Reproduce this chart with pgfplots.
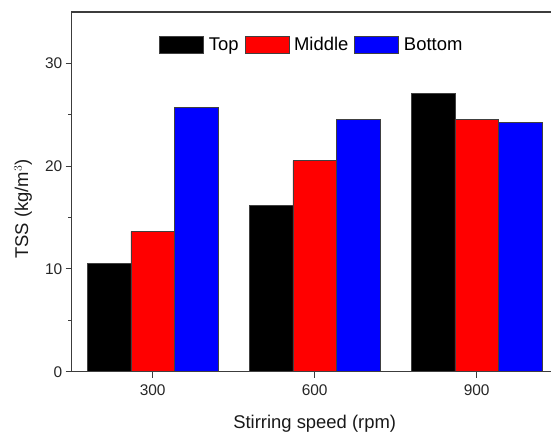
\documentclass[border=0pt]{standalone}
\usepackage{fontspec}
\setmainfont{Liberation Sans}
\usepackage{pgfplots}
\pgfplotsset{compat=1.18}
\definecolor{axgray}{RGB}{60,60,60}
\begin{document}
\begin{tikzpicture}
\begin{axis}[
  at={(0,0)}, anchor=south west,
  scale only axis,
  width=486bp, height=359.7bp,
  xmin=150, xmax=1050,
  ymin=0, ymax=35,
  xtick={300,600,900},
  ytick={0,10,20,30},
  minor y tick num=1,
  xtick pos=left, ytick pos=left,
  tick align=outside,
  major tick length=6bp,
  minor tick length=3.5bp,
  axis line style={axgray, line width=1.1bp},
  every tick/.style={axgray, line width=1bp},
  /pgf/number format/assume math mode=true,
  tick label style={font=\fontsize{15.5}{18}\selectfont, text=black!85},
  xticklabel style={yshift=-3.5bp},
  xlabel={Stirring speed (rpm)},
  ylabel={TSS (kg/m$^{3}$)},
  label style={font=\fontsize{18.5}{22}\selectfont, text=black!90},
  xlabel style={at={(axis description cs:0.5,-0.1566)}, anchor=base},
  ylabel style={at={(axis description cs:-0.1,0.452)}, anchor=center},
  ybar=0pt,
  bar width=80.7,
  legend columns=3,
  legend style={draw=none, fill=none, at={(rel axis cs:0.494,0.908)}, anchor=center,
    font=\fontsize{18.5}{22}\selectfont,
    nodes={text height=0.72em, text depth=0.21em},
    /tikz/every even column/.append style={column sep=4bp},
    /tikz/every odd column/.append style={column sep=3bp}},
  legend image code/.code={\draw[#1] (0bp,-5bp) rectangle (44bp,12bp);},
]
\addplot[fill=black, draw=black!75, line width=0.6bp, bar shift=-80.7] coordinates {(300,10.54) (600,16.15) (900,27.08)};
\addplot[fill=red, draw=black!75, line width=0.6bp, bar shift=0] coordinates {(300,13.62) (600,20.53) (900,24.58)};
\addplot[fill=blue, draw=black!75, line width=0.6bp, bar shift=80.7] coordinates {(300,25.72) (600,24.58) (900,24.29)};
\legend{Top, Middle, Bottom}
\end{axis}
\pgfresetboundingbox
\path[use as bounding box] (-71.7bp,-60.3bp) rectangle (479.3bp,371.7bp);
\end{tikzpicture}
\end{document}
